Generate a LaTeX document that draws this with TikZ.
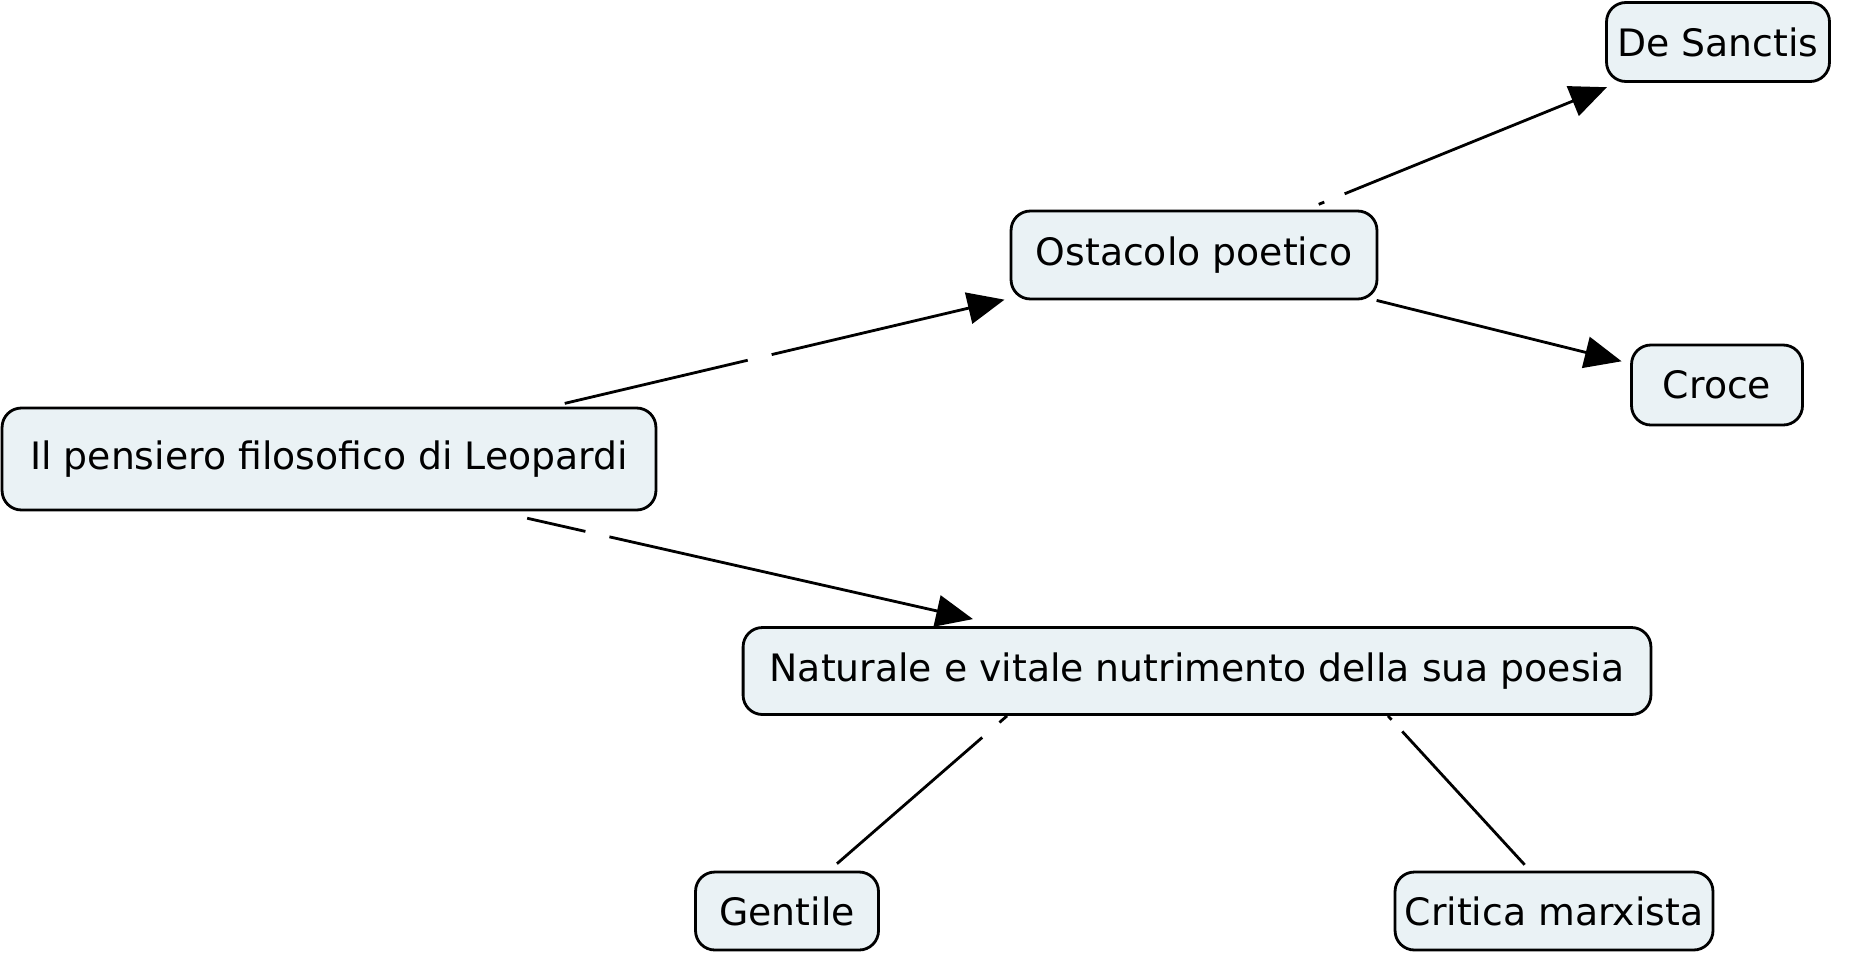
\documentclass[tikz,border=0pt]{standalone}
\usepackage{fontspec}
\setmainfont{DejaVu Sans}
\usepackage{tikz}
\usetikzlibrary{arrows.meta,calc}
\definecolor{boxfill}{RGB}{234,242,245}

\begin{document}
\begin{tikzpicture}[
    x=0.02cm, y=-0.02cm,
    box/.style={draw=black,fill=boxfill,line width=1.6pt,rounded corners=11pt,
                inner sep=0pt,align=center,font=\fontsize{21.5}{26}\selectfont},
    link/.style={draw=black,line width=1.6pt},
    >={Triangle[length=21pt,width=18pt]},
  ]
    \useasboundingbox (0,0) rectangle (1861,954);

    \node[box,minimum width=13.08cm,minimum height=2.04cm] (leo) at (329,459) {Il pensiero filosofico di Leopardi};
    \node[box,minimum width=7.32cm,minimum height=1.76cm]  (ost) at (1194,255) {Ostacolo poetico};
    \node[box,minimum width=4.46cm,minimum height=1.58cm]  (des) at (1718,42)  {De Sanctis};
    \node[box,minimum width=3.42cm,minimum height=1.6cm]   (cro) at (1717,385) {Croce};
    \node[box,minimum width=18.16cm,minimum height=1.74cm] (nat) at (1197,671) {Naturale e vitale nutrimento della sua poesia};
    \node[box,minimum width=3.66cm,minimum height=1.56cm]  (gen) at (787,911)  {Gentile};
    \node[box,minimum width=6.36cm,minimum height=1.56cm]  (cri) at (1554,911) {Critica marxista};

    \draw[link,->,shorten <=8pt,shorten >=3pt,
          dash pattern=on 107pt off 14pt on 2000pt] (leo) -- (ost);
    \draw[link,->,shorten <=17.6pt,
          dash pattern=on 34pt off 14pt on 2000pt]
      ($(leo.south)+(168,0)$) -- ($(nat.north)+(-224,-7)$);
    \draw[link,->,shorten <=8pt,shorten >=6.5pt,
          dash pattern=on 3.4pt off 12.5pt on 2000pt] (ost) -- (des);
    \draw[link,->,shorten >=5pt] (ost) -- (cro);
    \draw[link,shorten >=6pt,dash pattern=on 5.7pt off 13pt on 2000pt]
      ($(nat.south)+(-190,0)$) -- ($(gen.north)+(42,0)$);
    \draw[link,shorten >=4.5pt,dash pattern=on 3pt off 9pt on 2000pt]
      ($(nat.south)+(191,0)$) -- ($(cri.north)+(-24,0)$);

  \end{tikzpicture}
\end{document}
